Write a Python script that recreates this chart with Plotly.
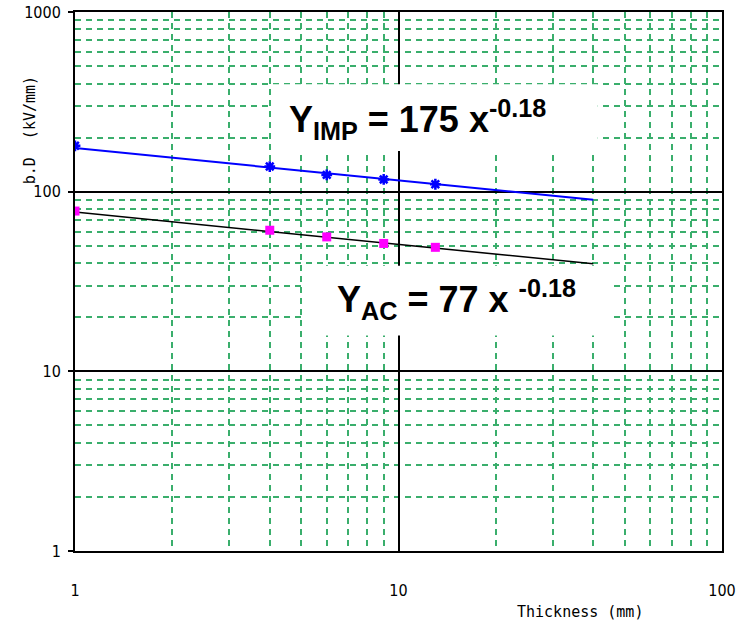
import numpy as np
import plotly.graph_objects as go

# Measured breakdown strength vs. insulation thickness
thickness_mm = [1, 4, 6, 9, 13]
bd_impulse = [180, 138, 124, 117, 110]
bd_ac = [78, 61, 56, 51.5, 49]

# Power-law fits  Y = a * x^b
imp_coef, imp_exp = 175, -0.18
ac_coef, ac_exp = 77, -0.18
fit_range = [1, 40]

x_ticks = [1, 10, 100]
y_ticks = [1, 10, 100, 1000]

GRID_GREEN = "#3AAE6C"
TICK_FONT = dict(family="Liberation Sans Narrow, DejaVu Sans Condensed, sans-serif",
                 size=16, color="black")
TITLE_FONT = dict(family="DejaVu Sans Mono, Liberation Mono, monospace",
                  size=15, color="black")

xf = np.logspace(np.log10(fit_range[0]), np.log10(fit_range[1]), 50)

fig = go.Figure()
fig.add_trace(go.Scatter(x=xf, y=imp_coef * xf ** imp_exp, mode="lines",
                         line=dict(color="#0000FF", width=2), hoverinfo="skip"))
fig.add_trace(go.Scatter(x=xf, y=ac_coef * xf ** ac_exp, mode="lines",
                         line=dict(color="black", width=1.5), hoverinfo="skip"))
fig.add_trace(go.Scatter(x=thickness_mm, y=bd_impulse, mode="markers",
                         marker=dict(symbol="asterisk-open", size=9, color="#0000FF",
                                     line=dict(color="#0000FF", width=2.5))))
fig.add_trace(go.Scatter(x=thickness_mm, y=bd_ac, mode="markers",
                         marker=dict(symbol="square", size=9, color="#FF00FF",
                                     line=dict(width=0))))

axis_common = dict(
    type="log",
    automargin=False,
    showline=True, mirror=True, linecolor="black", linewidth=2,
    showgrid=True, gridcolor="black", gridwidth=1.5,
    zeroline=False,
    tickfont=TICK_FONT,
    minor=dict(dtick="D1", showgrid=True, gridcolor=GRID_GREEN,
               griddash="6px,5px", gridwidth=1.5, ticks=""),
)

fig.update_xaxes(**axis_common, range=[0, 2], tickvals=x_ticks,
                 ticktext=[str(v) for v in x_ticks], ticks="",
                 ticklabelstandoff=24)
fig.update_yaxes(**axis_common, range=[0, 3], tickvals=y_ticks,
                 ticktext=[str(v) for v in y_ticks], ticks="outside",
                 ticklen=5, tickcolor="black", tickwidth=2, ticklabelstandoff=4)

# White panels behind the fit equations
fig.add_shape(type="rect", xref="paper", yref="paper", layer="above",
              x0=0.305, x1=0.808, y0=0.742, y1=0.866,
              fillcolor="white", line=dict(width=0))
fig.add_shape(type="rect", xref="paper", yref="paper", layer="above",
              x0=0.356, x1=0.830, y0=0.4, y1=0.529,
              fillcolor="white", line=dict(width=0))

EQ_FONT = dict(family="Liberation Sans, Arial, sans-serif", color="black")
fig.add_annotation(xref="paper", yref="paper", x=0.530, y=0.851,
                   text=f"<b>Y<sub>IMP</sub> = {imp_coef} x<sup>{imp_exp}</sup></b>",
                   showarrow=False, font=dict(**EQ_FONT, size=36))
fig.add_annotation(xref="paper", yref="paper", x=0.589, y=0.466,
                   text=f"<b>Y<sub>AC</sub> = {ac_coef} x <sup>{ac_exp}</sup></b>",
                   showarrow=False, font=dict(**EQ_FONT, size=36))

# Axis titles
fig.add_annotation(xref="paper", yref="paper", x=-0.07, y=0.78, textangle=-90,
                   text="b.D  (kV/mm)", showarrow=False, font=TITLE_FONT,
                   xanchor="center", yanchor="middle")
fig.add_annotation(xref="paper", yref="paper", x=0.78, y=-0.113,
                   text="Thickness (mm)", showarrow=False, font=TITLE_FONT,
                   xanchor="center", yanchor="middle")

fig.update_layout(
    width=748, height=624,
    margin=dict(l=75, r=26, t=12, b=73, autoexpand=False),
    paper_bgcolor="white", plot_bgcolor="white",
    showlegend=False,
)

fig.write_html("out.html")
